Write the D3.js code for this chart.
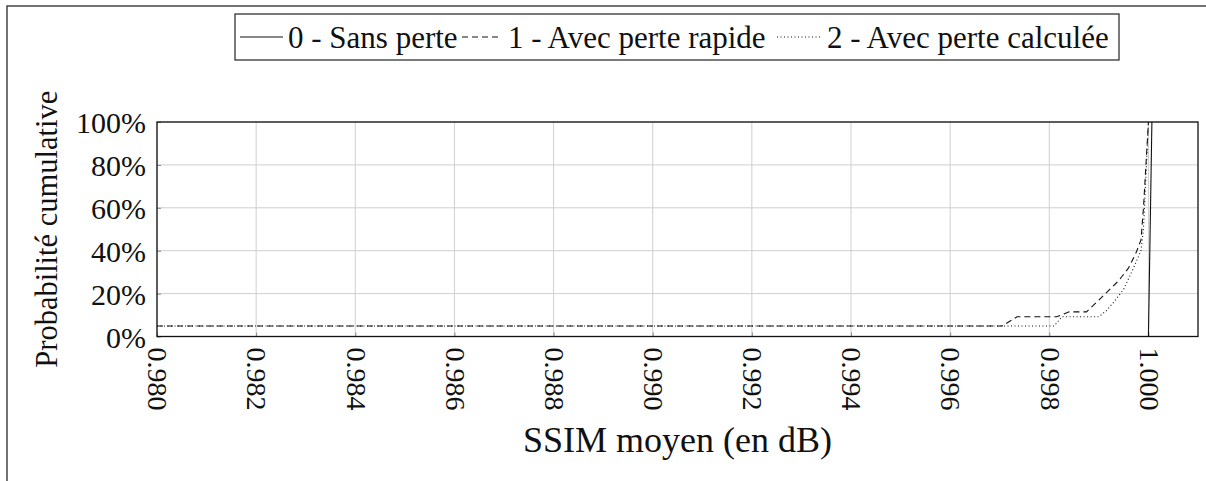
<!DOCTYPE html>
<html><head><meta charset="utf-8">
<script src="https://cdn.jsdelivr.net/npm/d3@7"></script>
<style>body{margin:0;background:#fff}svg{display:block}</style>
</head><body>
<script>
const xTicks = [0.980,0.982,0.984,0.986,0.988,0.990,0.992,0.994,0.996,0.998,1.000];
const yTicks = [0,20,40,60,80,100];
const seriesNames = ["0 - Sans perte","1 - Avec perte rapide","2 - Avec perte calculée"];
const s0x = [1.0000, 1.00007];
const s0y = [0, 100];
const s1x = [0.980, 0.99705, 0.99735, 0.99815, 0.99840, 0.99875, 0.99900, 0.99920, 0.99940, 0.99960, 0.99975, 0.99985, 0.99990, 0.99995, 1.00000];
const s1y = [4.9, 4.9, 9.2, 9.2, 11.5, 11.5, 17, 21.5, 26, 32, 39, 45, 60, 80, 100];
const s2x = [0.980, 0.99810, 0.99825, 0.99900, 0.99915, 0.99930, 0.99950, 0.99960, 0.99970, 0.99985, 0.99990, 0.99995, 1.00000];
const s2y = [4.9, 4.9, 9.2, 9.2, 12, 16, 22, 27, 32, 40, 50, 75, 100];

const W=1206,H=481;
const svg=d3.select("body").append("svg").attr("width",W).attr("height",H);
const L=157,R=1198,T=122,B=336.5;
const x=d3.scaleLinear().domain([0.980,1.001]).range([L,R]);
const y=d3.scaleLinear().domain([0,100]).range([B,T]);
const serif='"Liberation Serif"';

// outer frame
svg.append("rect").attr("x",7).attr("y",6).attr("width",1220).attr("height",500)
  .attr("fill","none").attr("stroke","#444").attr("stroke-width",1.5);

// grid
const g=svg.append("g");
g.selectAll(".vg").data(xTicks).join("line").attr("x1",d=>x(d)).attr("x2",d=>x(d))
  .attr("y1",T).attr("y2",B).attr("stroke","#cfcfcf").attr("stroke-width",1);
g.selectAll(".hg").data(yTicks).join("line").attr("y1",d=>y(d)).attr("y2",d=>y(d))
  .attr("x1",L).attr("x2",R).attr("stroke","#cfcfcf").attr("stroke-width",1);

// axes via d3 axis
const xa=svg.append("g").attr("transform",`translate(0,${B})`)
  .call(d3.axisBottom(x).tickValues(xTicks).tickSize(-4).tickFormat(d3.format(".3f")));
xa.attr("font-family",null).attr("font-size",null);
xa.select(".domain").remove();
xa.selectAll("line").attr("stroke","#888");
xa.selectAll("text").style("font-family",serif).style("font-size","28px").attr("fill","#111")
  .attr("transform","rotate(90)").attr("text-anchor","start")
  .attr("x",11).attr("y",0).attr("dy","0.33em");
const ya=svg.append("g").attr("transform",`translate(${L},0)`)
  .call(d3.axisLeft(y).tickValues(yTicks).tickSize(-4).tickFormat(d=>d+"%"));
ya.attr("font-family",null).attr("font-size",null);
ya.select(".domain").remove();
ya.selectAll("line").attr("stroke","#888");
ya.selectAll("text").style("font-family",serif).style("font-size","30px").attr("fill","#111")
  .attr("x",-11).attr("dy","0.35em");

// plot frame
svg.append("rect").attr("x",L).attr("y",T).attr("width",R-L).attr("height",B-T)
  .attr("fill","none").attr("stroke","#111").attr("stroke-width",1.3);

const line=d3.line().x(d=>x(d[0])).y(d=>y(d[1]));
const styles=[{da:null},{da:"6,4"},{da:"1,2.5"}];
const data=[d3.zip(s0x,s0y),d3.zip(s1x,s1y),d3.zip(s2x,s2y)];
svg.append("clipPath").attr("id","c").append("rect").attr("x",L).attr("y",T-2).attr("width",R-L).attr("height",B-T+2);
data.forEach((d,i)=>{
  svg.append("path").datum(d).attr("d",line).attr("fill","none").attr("stroke","#111")
    .attr("stroke-width",1.1).attr("stroke-dasharray",styles[i].da).attr("clip-path","url(#c)");
});

// axis labels
svg.append("text").attr("x",(L+R)/2).attr("y",452).attr("text-anchor","middle")
  .style("font-family",serif).style("font-size","36px").attr("fill","#111").text("SSIM moyen (en dB)");
svg.append("text").attr("transform",`translate(57,${(T+B)/2}) rotate(-90)`).attr("text-anchor","middle")
  .style("font-family",serif).style("font-size","30.5px").attr("fill","#111").text("Probabilité cumulative");

// legend
const lg=svg.append("g");
lg.append("rect").attr("x",235).attr("y",14).attr("width",884).attr("height",46)
  .attr("fill","#fff").attr("stroke","#333").attr("stroke-width",1.3);
const samples=[[240,283,288],[462,502,508],[777,821,827]];
seriesNames.forEach((n,i)=>{
  lg.append("line").attr("x1",samples[i][0]).attr("x2",samples[i][1]).attr("y1",37).attr("y2",37)
    .attr("stroke","#111").attr("stroke-width",1.1).attr("stroke-dasharray",styles[i].da);
  lg.append("text").attr("x",samples[i][2]).attr("y",48).style("font-family",serif)
    .style("font-size","31px").attr("fill","#111").text(n);
});
</script>
</body></html>
